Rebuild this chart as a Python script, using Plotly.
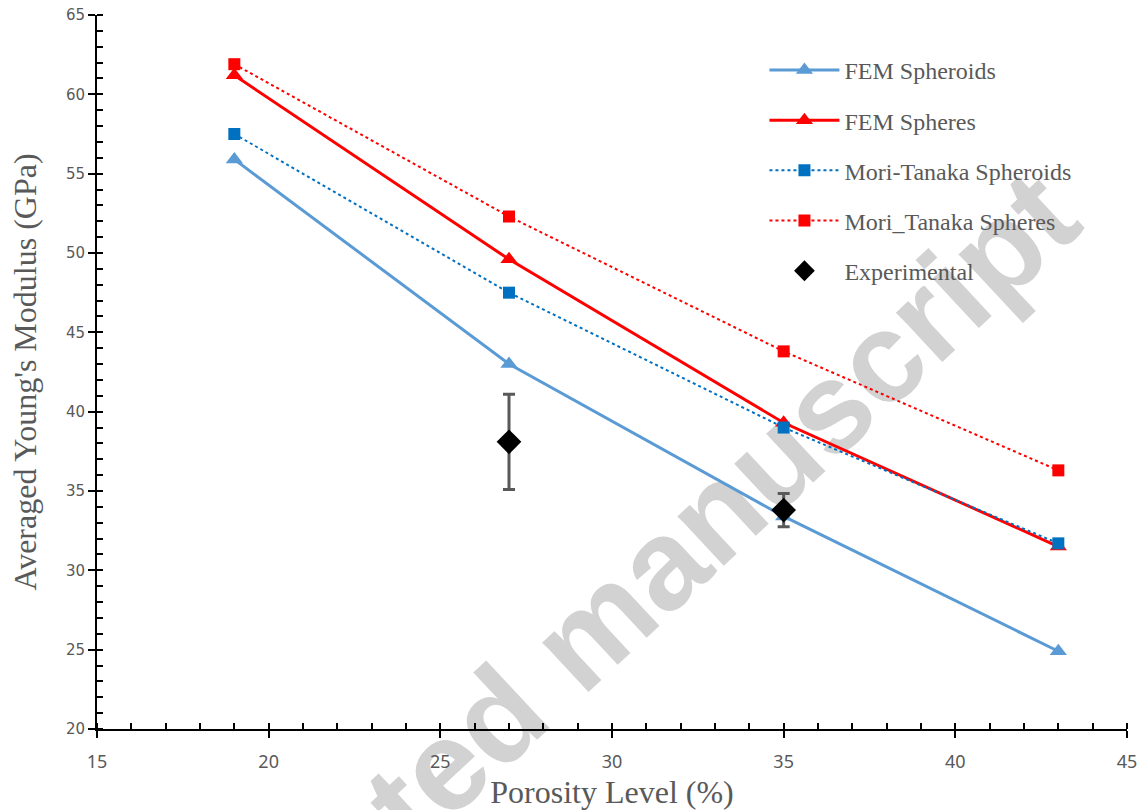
import plotly.graph_objects as go
import math

porosity = [19, 27, 35, 43]
fem_spheroids = [55.9, 43.0, 33.4, 24.9]
fem_spheres = [61.2, 49.6, 39.3, 31.5]
mt_spheroids = [57.5, 47.5, 39.0, 31.7]
mt_spheres = [61.9, 52.3, 43.8, 36.3]
exp_porosity = [27, 35]
exp_modulus = [38.1, 33.8]
exp_error = [3.0, 1.05]

W, H = 1143, 810
ML, MR, MT, MB = 97, 16, 15, 81
PW, PH = W - ML - MR, H - MT - MB

def px_to_paper(px, py):
    return (px - ML) / PW, (H - MB - py) / PH

fig = go.Figure()
fig.add_trace(go.Scatter(x=porosity, y=fem_spheroids, name="FEM Spheroids", mode="lines+markers",
                         line=dict(color="#5B9BD5", width=3),
                         marker=dict(symbol="triangle-up", size=15, color="#5B9BD5"),
                         legendgroup="a"))
fig.add_trace(go.Scatter(x=porosity, y=fem_spheres, name="FEM Spheres", mode="lines+markers",
                         line=dict(color="#FF0000", width=3),
                         marker=dict(symbol="triangle-up", size=15, color="#FF0000"),
                         legendgroup="b"))
fig.add_trace(go.Scatter(x=porosity, y=mt_spheroids, name="Mori-Tanaka Spheroids", mode="lines+markers",
                         line=dict(color="#0070C0", width=2, dash="dot"),
                         marker=dict(symbol="square", size=12, color="#0070C0"),
                         legendgroup="c"))
fig.add_trace(go.Scatter(x=porosity, y=mt_spheres, name="Mori_Tanaka Spheres", mode="lines+markers",
                         line=dict(color="#FF0000", width=2, dash="dot"),
                         marker=dict(symbol="square", size=12, color="#FF0000"),
                         legendgroup="d"))
fig.add_trace(go.Scatter(x=exp_porosity, y=exp_modulus, name="Experimental", mode="markers",
                         marker=dict(symbol="diamond", size=19, color="#000000"),
                         error_y=dict(type="data", array=exp_error, visible=True,
                                      color="#595959", thickness=3, width=6),
                         legendgroup="e"))

# watermark
cx, cy = 572, 630
ang = math.radians(43)
L = 220
x0, y0 = px_to_paper(cx - L * math.cos(ang), cy + L * math.sin(ang))
x1, y1 = px_to_paper(cx + L * math.cos(ang), cy - L * math.sin(ang))
fig.add_shape(type="line", xref="paper", yref="paper", x0=x0, y0=y0, x1=x1, y1=y1,
              layer="below", line=dict(color="rgba(0,0,0,0)", width=0),
              label=dict(text="Accepted manuscript", textposition="middle",
                         yanchor="middle",
                         font=dict(family="Liberation Sans, Arial", size=128, color="#d2d2d2",
                                   weight="bold")))

axis_common = dict(showline=True, linecolor="black", linewidth=2, showgrid=False, zeroline=False,
                   ticks="outside", ticklen=7, tickwidth=2, tickcolor="black",
                   mirror=False, automargin=False)

fig.update_xaxes(range=[15, 45], dtick=5, tick0=15, **axis_common,
                 minor=dict(dtick=1, ticks="inside", ticklen=6, tickwidth=1.5, tickcolor="black"),
                 ticklabelstandoff=8,
                 tickfont=dict(family="Liberation Sans Narrow, Noto Sans", size=18, color="#595959"),
                 title=dict(text="Porosity Level (%)", standoff=12,
                            font=dict(family="Liberation Serif, Times New Roman", size=32, color="#595959")))
fig.update_yaxes(range=[20, 65], dtick=5, tick0=20, **axis_common,
                 minor=dict(dtick=1, ticks="inside", ticklen=6, tickwidth=1.5, tickcolor="black"),
                 tickfont=dict(family="DejaVu Sans", size=15, color="#595959"),
                 title=dict(text="Averaged Young's Modulus (GPa)", standoff=20,
                            font=dict(family="Liberation Serif, Times New Roman", size=32, color="#595959")))

fig.update_layout(
    width=W, height=H,
    margin=dict(l=ML, r=MR, t=MT, b=MB, autoexpand=False),
    plot_bgcolor="white", paper_bgcolor="white",
    showlegend=True,
    legend=dict(x=0.648, y=0.954, xanchor="left", yanchor="top",
                traceorder="grouped", tracegroupgap=16, itemwidth=70,
                bgcolor="rgba(0,0,0,0)",
                font=dict(family="Liberation Serif, Times New Roman", size=24, color="#595959")),
)

fig.write_html("out.html")
